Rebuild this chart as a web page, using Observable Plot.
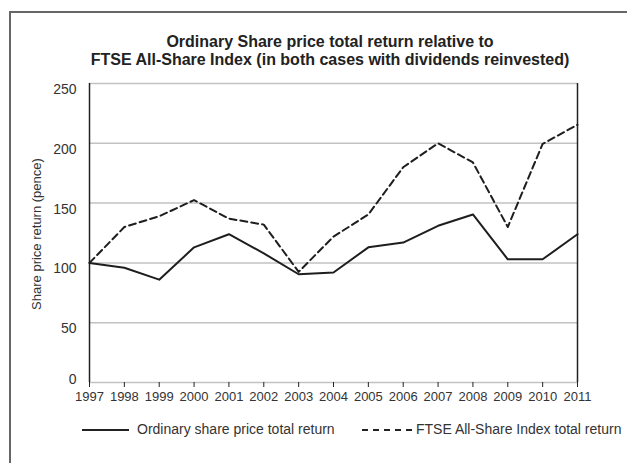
<!DOCTYPE html>
<html>
<head>
<meta charset="utf-8">
<script src="https://cdn.jsdelivr.net/npm/d3@7"></script>
<script src="https://cdn.jsdelivr.net/npm/@observablehq/plot@0.6"></script>
<style>
  html, body { margin: 0; padding: 0; background: #fff; }
  #wrap { position: relative; width: 627px; height: 463px; overflow: hidden; font-family: "Liberation Sans", Arial, sans-serif; color: #222; }
  #frame { position: absolute; left: 9px; top: 11px; width: 660px; height: 480px; border: 2px solid #666; box-sizing: border-box; }
  #title { position: absolute; left: 0; top: 33px; width: 660px; text-align: center; font-weight: bold; font-size: 16px; line-height: 18px; color: #222; }
  #ytitle { position: absolute; left: 36px; top: 234px; transform: translate(-50%, -50%) rotate(-90deg); white-space: nowrap; font-size: 13px; color: #333; }
  #chart { position: absolute; left: 0; top: 0; }
  .leg { position: absolute; top: 421px; font-size: 14px; color: #333; white-space: nowrap; line-height: 16px; }
  .sw { position: absolute; top: 429px; height: 0; }
</style>
</head>
<body>
<div id="wrap">
  <div id="frame"></div>
  <div id="chart"></div>
  <div id="title">Ordinary Share price total return relative to<br>FTSE All-Share Index (in both cases with dividends reinvested)</div>
  <div id="ytitle">Share price return (pence)</div>
  <div class="sw" style="left:82px;width:47px;border-top:2px solid #222;"></div>
  <div class="leg" style="left:137px;">Ordinary share price total return</div>
  <div class="sw" style="left:362px;width:50px;border-top:2px dashed #222;"></div>
  <div class="leg" style="left:416px;">FTSE All-Share Index total return</div>
</div>
<script>
const years = [1997, 1998, 1999, 2000, 2001, 2002, 2003, 2004, 2005, 2006, 2007, 2008, 2009, 2010, 2011];
const ordinary = [100, 96, 86, 113, 124, 108, 90.5, 92, 113, 117, 131, 140.5, 103, 103, 124];
const ftse = [100, 130, 139, 152.5, 137, 132, 92.5, 122, 140.5, 180, 200, 184, 130, 199.5, 215.5];
const yTicks = [0, 50, 100, 150, 200, 250];

const ordData = years.map((y, i) => ({year: y, value: ordinary[i]}));
const ftseData = years.map((y, i) => ({year: y, value: ftse[i]}));

const chart = Plot.plot({
  width: 627,
  height: 463,
  marginTop: 83,
  marginBottom: 81,
  marginLeft: 89,
  marginRight: 50,
  x: {domain: [1997, 2011]},
  y: {domain: [0, 250]},
  style: {fontFamily: "'Liberation Sans', Arial, sans-serif", fontSize: "13px", color: "#333", background: "transparent"},
  marks: [
    Plot.ruleY(yTicks, {stroke: "#c2c2c2", strokeWidth: 1.5}),
    Plot.ruleX([years[0], years[years.length - 1]], {stroke: "#222", strokeWidth: 1.5}),
    Plot.axisX({ticks: years, tickFormat: d => String(d), tickSize: 5, tickPadding: 4, stroke: "#222", fontSize: 13, label: null}),
    Plot.axisY({ticks: yTicks.slice(1), tickSize: 0, tickPadding: 13, dy: 6, fontSize: 14, label: null}),
    Plot.axisY({ticks: [0], tickSize: 0, tickPadding: 13, dy: -3, fontSize: 14, label: null}),
    Plot.line(ordData, {x: "year", y: "value", stroke: "#1e1e1e", strokeWidth: 2}),
    Plot.line(ftseData, {x: "year", y: "value", stroke: "#1e1e1e", strokeWidth: 2, strokeDasharray: "7,4"})
  ]
});
document.getElementById("chart").appendChild(chart);
</script>
</body>
</html>
